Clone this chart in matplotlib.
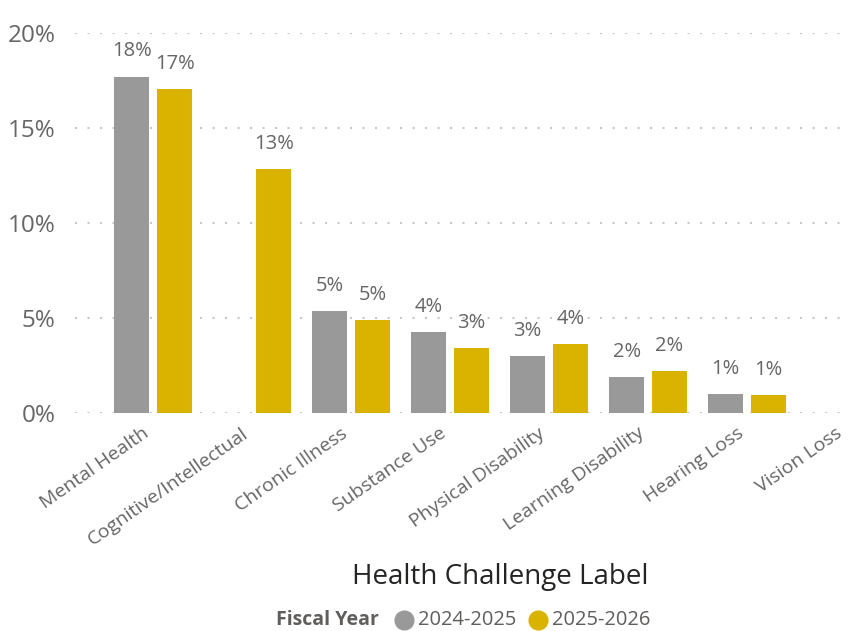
import numpy as np
import matplotlib.pyplot as plt

# Share of clients by health challenge, two fiscal years
categories = ["Mental Health", "Cognitive/Intellectual", "Chronic Illness", "Substance Use",
              "Physical Disability", "Learning Disability", "Hearing Loss", "Vision Loss"]
fy_2024 = [17.7, np.nan, 5.37, 4.26, 3.0, 1.89, 1.0, np.nan]
fy_2025 = [17.05, 12.84, 4.9, 3.42, 3.63, 2.21, 0.95, np.nan]
series_names = ["2024-2025", "2025-2026"]
colors = ["#999999", "#DAB300"]

plt.rcParams["font.family"] = ["Open Sans", "DejaVu Sans"]

fig = plt.figure(figsize=(8.48, 6.31), dpi=100)
ax = fig.add_axes([75 / 848, 218 / 631, 773 / 848, 380 / 631])

x = np.arange(len(categories))
width = 0.354
offset = 0.217
for vals, off, col in zip([fy_2024, fy_2025], [-offset, offset], colors):
    v = np.array(vals, dtype=float)
    ax.bar(x + off, np.nan_to_num(v), width, color=col, zorder=3)
    for xi, yi in zip(x + off, v):
        if not np.isnan(yi):
            ax.annotate(f"{yi:.0f}%", (xi, yi), xytext=(0, 11), textcoords="offset points",
                        ha="center", va="bottom", fontsize=14.5, color="#666666")

ax.set_xlim(-0.79, 7.02)
ax.set_ylim(0, 20)
ax.set_yticks([0, 5, 10, 15, 20])
ax.set_yticklabels(["0%", "5%", "10%", "15%", "20%"], fontsize=17.5, color="#666666")
# labels sit a little left of the group centre
ax.set_xticks(x - 0.11)
ax.set_xticklabels(categories, rotation=35, ha="right", rotation_mode="anchor",
                   fontsize=14, color="#666666")
ax.tick_params(length=0, axis="both")
ax.tick_params(axis="y", pad=14)
ax.tick_params(axis="x", pad=8)
ax.grid(axis="y", color="#c8c8c8", linestyle=(0, (1, 5)), linewidth=1.5, zorder=0)
for s in ax.spines.values():
    s.set_visible(False)

fig.text(500 / 848, 1 - 577 / 631, "Health Challenge Label", ha="center", va="center",
         fontsize=20, color="#252423")

# legend drawn as text + circle markers
ly = 1 - 620 / 631
fig.text(276 / 848, ly, "Fiscal Year", ha="left", va="center", fontsize=14,
         fontweight="bold", color="#605e5c")
for cx, tx, name, col in zip([404, 538], [418, 552], series_names, colors):
    fig.add_artist(plt.Line2D([cx / 848], [ly], marker="o", markersize=13.5, color=col,
                              transform=fig.transFigure))
    fig.text(tx / 848, ly, name, ha="left", va="center", fontsize=14.5, color="#605e5c")

fig.savefig("out.png", dpi=100)
